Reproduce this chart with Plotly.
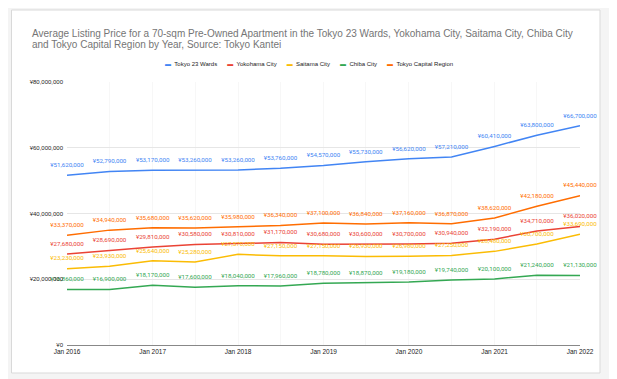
import plotly.graph_objects as go

dates = ["2016-01-01", "2016-07-01", "2017-01-01", "2017-07-01", "2018-01-01", "2018-07-01",
         "2019-01-01", "2019-07-01", "2020-01-01", "2020-07-01", "2021-01-01", "2021-07-01",
         "2022-01-01"]

tokyo23 = [51620000, 52790000, 53170000, 53260000, 53260000, 53760000, 54570000,
           55730000, 56620000, 57210000, 60410000, 63800000, 66700000]
yokohama = [27680000, 28690000, 29810000, 30580000, 30810000, 31170000, 30680000,
            30600000, 30700000, 30940000, 32190000, 34710000, 36020000]
saitama = [23230000, 23930000, 25640000, 25280000, 27570000, 27150000, 27150000,
           26930000, 26980000, 27250000, 28480000, 30700000, 33690000]
chiba = [16860000, 16900000, 18170000, 17600000, 18040000, 17960000, 18780000,
         18870000, 19180000, 19740000, 20100000, 21240000, 21130000]
capital = [33370000, 34940000, 35680000, 35620000, 35980000, 36340000, 37100000,
           36840000, 37160000, 36870000, 38620000, 42180000, 45440000]

series_names = ["Tokyo 23 Wards", "Yokohama City", "Saitama City", "Chiba City", "Tokyo Capital Region"]
series_values = [tokyo23, yokohama, saitama, chiba, capital]
colors = ["#4285F4", "#EA4335", "#FBBC04", "#34A853", "#FF6D01"]

y_tickvals = [0, 20000000, 40000000, 60000000, 80000000]
y_ticktext = ["¥0", "¥20,000,000", "¥40,000,000", "¥60,000,000", "¥80,000,000"]
x_tickvals = ["2016-01-01", "2017-01-01", "2018-01-01", "2019-01-01", "2020-01-01", "2021-01-01", "2022-01-01"]
x_ticktext = ["Jan 2016", "Jan 2017", "Jan 2018", "Jan 2019", "Jan 2020", "Jan 2021", "Jan 2022"]

title_line1 = ("Average Listing Price for a 70-sqm Pre-Owned Apartment in the Tokyo 23 Wards, "
               "Yokohama City, Saitama City, Chiba City")
title_line2 = "and Tokyo Capital Region by Year, Source: Tokyo Kantei"

# The page body adds an 8px offset; work in window pixels and convert.
OFF = 8
W, H = 617 - OFF, 379 - OFF
PL, PR, PT, PB = 67, 580, 82, 345          # plot area in window pixels
L, R, T, B = PL - OFF, W - (PR - OFF), PT - OFF, H - (PB - OFF)
pw, ph = W - L - R, H - T - B

def px_x(p):
    return (p - OFF - L) / pw

def px_y(p):
    return (H - B - (p - OFF)) / ph

fig = go.Figure()
for name, vals, col in zip(series_names, series_values, colors):
    fig.add_trace(go.Scatter(x=dates, y=vals, mode="lines", name=name,
                             line=dict(color=col, width=1.5), showlegend=False,
                             hoverinfo="skip"))
for name, vals, col in zip(series_names, series_values, colors):
    fig.add_trace(go.Scatter(x=dates, y=vals, mode="markers+text", name=name,
                             marker=dict(size=9, opacity=0),
                             text=["¥{:,}".format(v) for v in vals],
                             textposition="top center",
                             textfont=dict(color=col, size=6.2, family="Roboto"),
                             showlegend=False, cliponaxis=False, hoverinfo="skip"))

sp = "\u00a0" * 6
legend_html = sp.join(
    "<span style='color:{}'>▬</span>\u00a0\u00a0<span style='color:#222'>{}</span>".format(c, n)
    for n, c in zip(series_names, colors))

fig.add_shape(type="rect", xref="paper", yref="paper",
              x0=px_x(11.5), x1=px_x(600), y0=px_y(373), y1=px_y(10),
              fillcolor="white", line=dict(color="#d9d9d9", width=1), layer="below")

fig.add_annotation(xref="paper", yref="paper", x=px_x(308.5), y=px_y(64),
                   text=legend_html, showarrow=False, xanchor="center", yanchor="middle",
                   font=dict(size=6, family="Liberation Sans, Arial", color="#222"))

fig.add_annotation(xref="paper", yref="paper", x=px_x(30), y=px_y(33.5),
                   text=title_line1, showarrow=False, xanchor="left", yanchor="middle",
                   font=dict(size=10, family="Liberation Sans, Arial", color="#757575"))
fig.add_annotation(xref="paper", yref="paper", x=px_x(30), y=px_y(44.5),
                   text=title_line2, showarrow=False, xanchor="left", yanchor="middle",
                   font=dict(size=10, family="Liberation Sans, Arial", color="#757575"))

fig.update_layout(
    width=W, height=H,
    margin=dict(l=L, r=R, t=T, b=B),
    paper_bgcolor="#f4f4f4",
    plot_bgcolor="white",
    showlegend=False,
    xaxis=dict(range=["2016-01-01", "2022-01-01"], tickvals=x_tickvals, ticktext=x_ticktext,
               showgrid=True, gridcolor="#f7f7f7", zeroline=False, showline=False,
               minor=dict(tickvals=dates, showgrid=True, gridcolor="#f7f7f7"),
               tickfont=dict(size=6.5, family="Liberation Sans, Arial", color="#222"),
               ticks="", ticklabelstandoff=1),
    yaxis=dict(range=[0, 80000000], tickvals=y_tickvals, ticktext=y_ticktext,
               showgrid=True, gridcolor="#e6e6e6", zeroline=True, zerolinecolor="#888",
               zerolinewidth=1, showline=False,
               tickfont=dict(size=6, family="Liberation Sans, Arial", color="#222"),
               ticks="", ticklabelstandoff=3),
)

fig.write_html("out.html")
